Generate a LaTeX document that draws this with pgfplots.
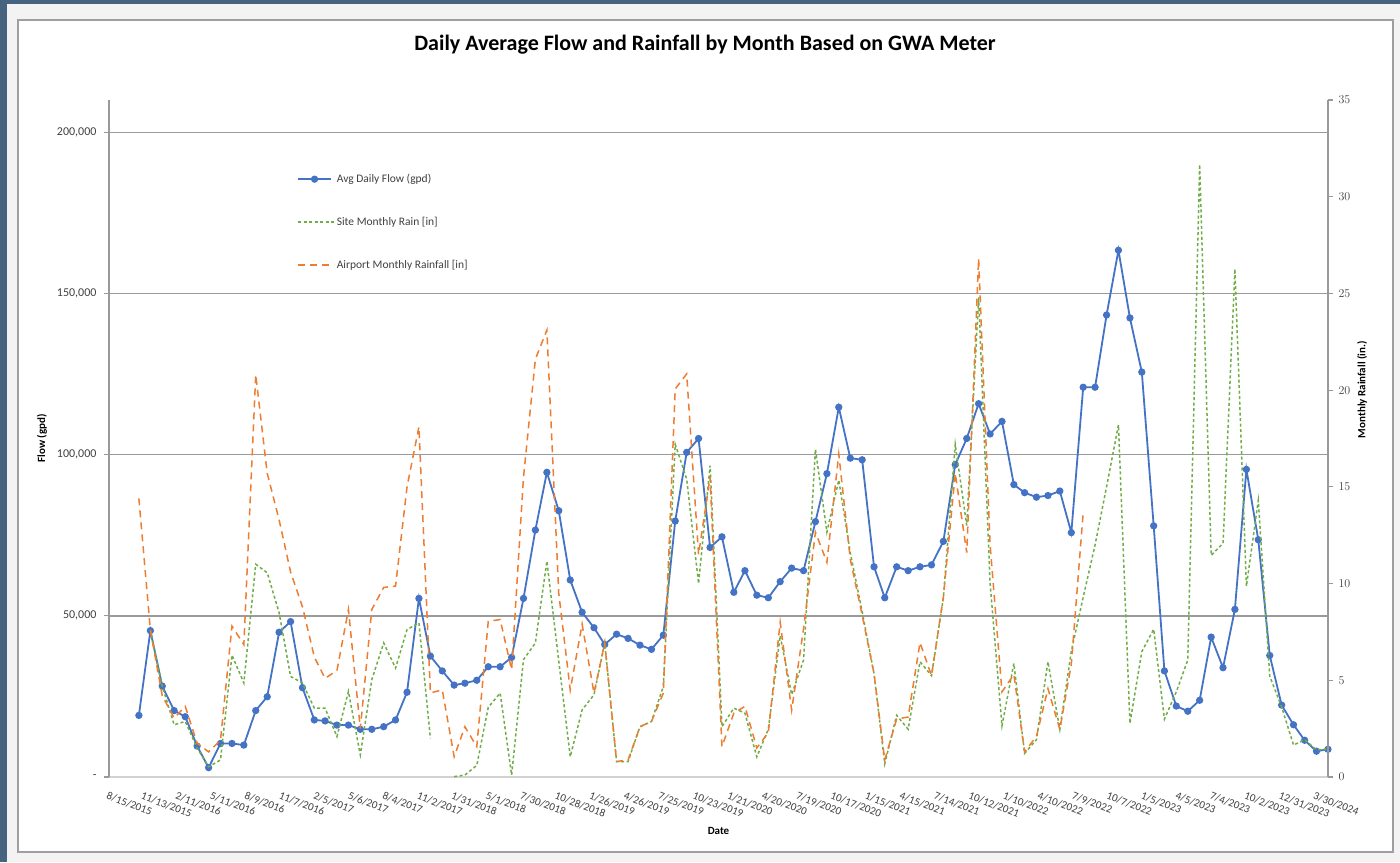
\documentclass[border=0pt]{standalone}
\usepackage{fontspec}
\setmainfont{Carlito}
\usepackage{pgfplots}
\pgfplotsset{compat=1.18}
\usepackage{pgfplotstable}
\usepgfplotslibrary{dateplot}

\definecolor{flowblue}{HTML}{4472C4}
\definecolor{rainorange}{HTML}{ED7D31}
\definecolor{raingreen}{HTML}{70AD47}
\definecolor{gridgray}{HTML}{9A9A9A}
\definecolor{framebg}{HTML}{46637F}
\definecolor{paper}{HTML}{F3F3F3}
\definecolor{ticktext}{HTML}{404040}

% monthly values: flow [gpd], site rain [in], airport rain [in]
\pgfplotstableread{
date       flow    site   airport
2015-11-01 19100   nan    14.4
2015-12-01 45400   7.6    7.6
2016-01-01 28200   4.7    4.2
2016-02-01 20600   2.7    3.05
2016-03-01 18700   2.87   3.65
2016-04-01 9600    1.5    1.75
2016-05-01 2900    0.53   1.3
2016-06-01 10400   0.88   1.9
2016-07-01 10400   6.3    7.8
2016-08-01 9900    4.86   6.84
2016-09-01 20600   11.0   20.8
2016-10-01 24900   10.56  15.7
2016-11-01 44900   8.5    13.3
2016-12-01 48200   5.2    10.6
2017-01-01 27700   4.86   8.8
2017-02-01 17700   3.56   6.2
2017-03-01 17400   3.56   5.1
2017-04-01 16100   2.09   5.5
2017-05-01 16100   4.42   8.66
2017-06-01 14800   1.14   2.5
2017-07-01 14800   5.03   8.66
2017-08-01 15600   6.93   9.8
2017-09-01 17700   5.63   9.87
2017-10-01 26300   7.62   15.0
2017-11-01 55400   7.97   18.1
2017-12-01 37500   2.0    4.35
2018-01-01 32900   nan    4.5
2018-02-01 28500   0.02   1.05
2018-03-01 29100   0.1    2.6
2018-04-01 30000   0.6    1.57
2018-05-01 34200   3.6    8.05
2018-06-01 34200   4.34   8.14
2018-07-01 37100   0.1    5.55
2018-08-01 55400   6.07   15.5
2018-09-01 76600   6.93   21.6
2018-10-01 94500   11.16  23.1
2018-11-01 82600   6.0    9.5
2018-12-01 61100   1.05   4.5
2019-01-01 51100   3.47   7.9
2019-02-01 46300   4.25   4.34
2019-03-01 41100   6.93   6.93
2019-04-01 44300   0.8    0.8
2019-05-01 43000   0.8    0.88
2019-06-01 40900   2.6    2.6
2019-07-01 39600   2.87   2.87
2019-08-01 44000   4.68   4.34
2019-09-01 79400   17.2   20.06
2019-10-01 100700  15.4   20.84
2019-11-01 105000  10.0   11.5
2019-12-01 71200   16.1   15.5
2020-01-01 74500   2.6    1.57
2020-02-01 57300   3.56   3.3
2020-03-01 64000   3.3    3.65
2020-04-01 56400   1.04   1.5
2020-05-01 55600   2.47   2.3
2020-06-01 60600   7.3    8.0
2020-07-01 64800   4.26   3.46
2020-08-01 64000   6.05   7.66
2020-09-01 79200   16.95  12.66
2020-10-01 94100   12.66  11.1
2020-11-01 114700  15.35  16.7
2020-12-01 98900   11.6   11.25
2021-01-01 98400   8.55   8.37
2021-02-01 65200   5.34   5.34
2021-03-01 55600   0.68   0.88
2021-04-01 65200   3.19   3.0
2021-05-01 64000   2.47   3.1
2021-06-01 65200   5.96   6.95
2021-07-01 65800   5.24   5.24
2021-08-01 73100   9.26   9.3
2021-09-01 96900   17.2   15.7
2021-10-01 105000  13.0   11.6
2021-11-01 115800  24.8   26.8
2021-12-01 106400  10.0   12.0
2022-01-01 110300  2.65   4.4
2022-02-01 90700   5.87   5.3
2022-03-01 88200   1.22   1.3
2022-04-01 86800   1.93   2.1
2022-05-01 87300   5.96   4.57
2022-06-01 88700   2.46   2.46
2022-07-01 75800   6.5    5.84
2022-08-01 120900  9.3    13.67
2022-09-01 120900  12.0   nan
2022-10-01 143300  15.0   nan
2022-11-01 163400  18.2   nan
2022-12-01 142400  2.77   nan
2023-01-01 125600  6.48   nan
2023-02-01 77900   7.64   nan
2023-03-01 32900   2.99   nan
2023-04-01 22000   4.4    nan
2023-05-01 20400   6.05   nan
2023-06-01 23800   31.66  nan
2023-07-01 43400   11.46  nan
2023-08-01 33900   12.08  nan
2023-09-01 52000   26.26  nan
2023-10-01 95400   9.86   nan
2023-11-01 73600   14.3   nan
2023-12-01 37700   5.21   nan
2024-01-01 22300   3.62   nan
2024-02-01 16200   1.65   nan
2024-03-01 11400   1.93   nan
2024-04-01 8000    1.4    nan
2024-05-01 8600    1.45   nan
}\monthly

\pgfplotsset{
  shared/.style={
    at={(109pt,85pt)}, anchor=south west,
    scale only axis, width=1219pt, height=677pt,
    date coordinates in=x, date ZERO=2015-08-15,
    xmin=2015-08-15, xmax=2024-05-01,
    unbounded coords=jump,
    scaled y ticks=false,
    tick align=outside, major tick length=5pt,
    ticklabel style={font=\fontsize{12}{14}\selectfont, text=ticktext},
    label style={font=\bfseries\fontsize{11}{13}\selectfont},
    clip=false,
  },
  flowline/.style={flowblue, line width=1.8pt, mark=*, mark size=2.7pt,
    mark options={solid, fill=flowblue, draw=flowblue}},
  siteline/.style={raingreen, line width=1.5pt, dash pattern=on 3pt off 2.5pt, mark=none},
  airline/.style={rainorange, line width=1.5pt, dash pattern=on 7pt off 5pt, mark=none},
}

\begin{document}
\begin{tikzpicture}
\useasboundingbox (0,0) rectangle (1400pt,862pt);
\fill[framebg] (0,0) rectangle (1400pt,862pt);
\fill[paper] (7pt,0) rectangle (1400pt,858pt);
\draw[gray!75, line width=1.3pt, fill=white] (18pt,10pt) rectangle (1393pt,842pt);

\node[font=\bfseries\fontsize{22}{26}\selectfont] at (705pt,817pt)
  {Daily Average Flow and Rainfall by Month Based on GWA Meter};

% primary axis: flow
\begin{axis}[shared,
  ymin=0, ymax=210000,
  ytick={0,50000,100000,150000,200000},
  yticklabels={{-\hspace{5pt}},{50,000},{100,000},{150,000},{200,000}},
  yticklabel style={xshift=-4pt},
  ymajorgrids, grid style={gridgray, line width=1.4pt},
  axis x line*=bottom, axis y line*=left,
  x axis line style={draw=gray!35, line width=1.2pt},
  y axis line style={draw=gray!80, line width=1.2pt},
  ytick style={draw=gray!80, line width=1.2pt},
  xtick={2015-08-15,2015-11-13,2016-02-11,2016-05-11,2016-08-09,2016-11-07,
    2017-02-05,2017-05-06,2017-08-04,2017-11-02,2018-01-31,2018-05-01,
    2018-07-30,2018-10-28,2019-01-26,2019-04-26,2019-07-25,2019-10-23,
    2020-01-21,2020-04-20,2020-07-19,2020-10-17,2021-01-15,2021-04-15,
    2021-07-14,2021-10-12,2022-01-10,2022-04-10,2022-07-09,2022-10-07,
    2023-01-05,2023-04-05,2023-07-04,2023-10-02,2023-12-31,2024-03-30},
  xticklabels={8/15/2015,11/13/2015,2/11/2016,5/11/2016,8/9/2016,11/7/2016,
    2/5/2017,5/6/2017,8/4/2017,11/2/2017,1/31/2018,5/1/2018,
    7/30/2018,10/28/2018,1/26/2019,4/26/2019,7/25/2019,10/23/2019,
    1/21/2020,4/20/2020,7/19/2020,10/17/2020,1/15/2021,4/15/2021,
    7/14/2021,10/12/2021,1/10/2022,4/10/2022,7/9/2022,10/7/2022,
    1/5/2023,4/5/2023,7/4/2023,10/2/2023,12/31/2023,3/30/2024},
  xticklabel style={rotate=-21, anchor=north west, inner sep=0pt, yshift=-9pt, xshift=3pt,
    font=\fontsize{11}{13}\selectfont},
  xtick style={draw=none},
  xlabel={Date},
  xlabel style={at={(axis description cs:0.5,0)}, anchor=center, yshift=-54pt},
  ylabel={Flow (gpd)},
  ylabel style={at={(axis description cs:-0.055,0.5)}, anchor=center},
]
\addplot[flowline] table[x=date, y=flow] {\monthly};
\end{axis}

% secondary axis: rainfall
\begin{axis}[shared,
  ymin=0, ymax=35,
  ytick={0,5,...,35},
  axis x line=none, axis y line*=right,
  y axis line style={draw=gray!80, line width=1.2pt},
  ytick style={draw=gray!80, line width=1.2pt},
  yticklabel style={xshift=2pt},
  ylabel={Monthly Rainfall (in.)},
  ylabel style={at={(axis description cs:1.028,0.572)}, anchor=center, rotate=0},
  legend style={at={(axis description cs:0.1542,0.8936)}, anchor=north west,
    draw=none, fill=none, inner sep=0pt, row sep=29pt,
    font=\fontsize{11.5}{13}\selectfont, text=ticktext,
    cells={anchor=west}},
  legend image code/.code={\draw[#1] (0pt,0pt) -- (36pt,0pt);},
]
\addlegendimage{flowline, legend image code/.code={
  \draw[flowblue, line width=1.8pt] (0pt,0pt) -- (33pt,0pt);
  \fill[flowblue] (16.5pt,0pt) circle (2.7pt);}}
\addlegendentry{Avg Daily Flow (gpd)}
\addplot[siteline] table[x=date, y=site] {\monthly};
\addlegendentry{Site Monthly Rain [in]}
\addplot[airline] table[x=date, y=airport] {\monthly};
\addlegendentry{Airport Monthly Rainfall [in]}
\end{axis}
\end{tikzpicture}
\end{document}
